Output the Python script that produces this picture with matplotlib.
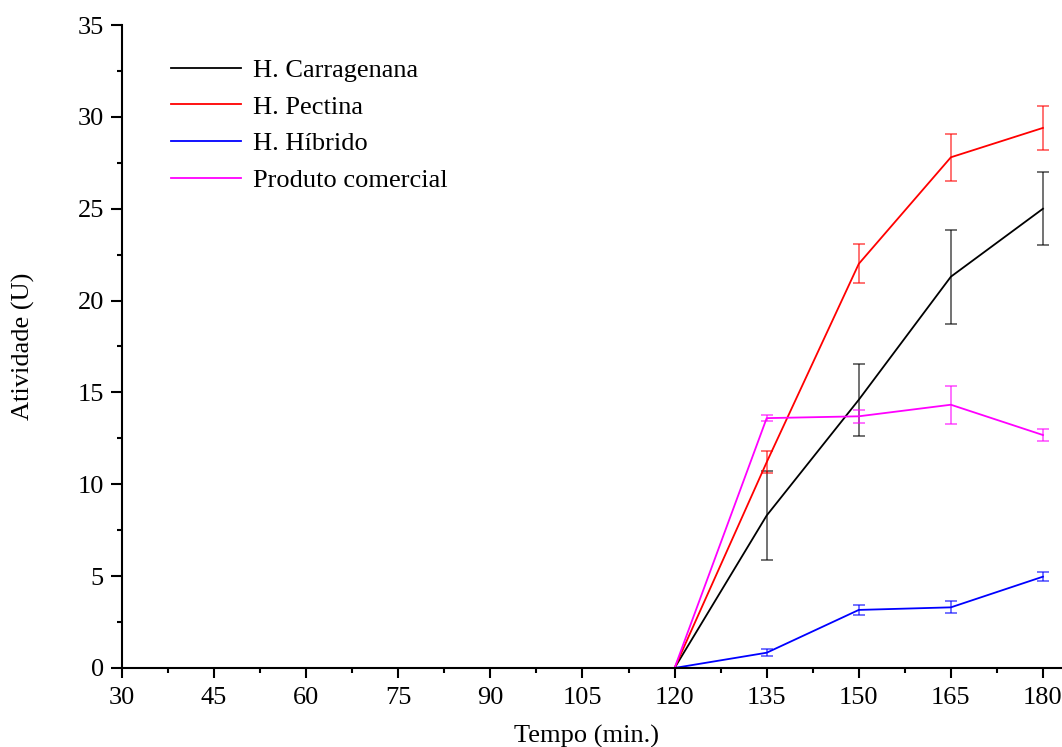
import matplotlib.pyplot as plt
import numpy as np

plt.rcParams['font.family'] = ['Liberation Serif', 'DejaVu Serif']

tempo = [30, 45, 60, 75, 90, 105, 120, 135, 150, 165, 180]

carragenana = [0, 0, 0, 0, 0, 0, 0, 8.3, 14.6, 21.3, 25.0]
carragenana_err = [0, 0, 0, 0, 0, 0, 0, 2.44, 1.96, 2.56, 2.0]

pectina = [0, 0, 0, 0, 0, 0, 0, 11.2, 22.0, 27.8, 29.4]
pectina_err = [0, 0, 0, 0, 0, 0, 0, 0.6, 1.07, 1.27, 1.19]

hibrido = [0, 0, 0, 0, 0, 0, 0, 0.83, 3.16, 3.30, 4.97]
hibrido_err = [0, 0, 0, 0, 0, 0, 0, 0.2, 0.25, 0.32, 0.25]

comercial = [0, 0, 0, 0, 0, 0, 0, 13.6, 13.7, 14.33, 12.68]
comercial_err = [0, 0, 0, 0, 0, 0, 0, 0.15, 0.37, 1.04, 0.35]

series = [
    ('H. Carragenana', carragenana, carragenana_err, 'black'),
    ('H. Pectina', pectina, pectina_err, '#ff0000'),
    ('H. Híbrido', hibrido, hibrido_err, '#0000ff'),
    ('Produto comercial', comercial, comercial_err, '#ff00ff'),
]

fig = plt.figure(figsize=(10.62, 7.47), dpi=100)
ax = fig.add_axes([0.1149, 0.1058, 0.8851, 0.8607])

for label, vals, err, col in series:
    x = np.array(tempo)
    v = np.array(vals)
    e = np.array(err)
    m = e > 0
    ax.plot(x, v, color=col, lw=1.3, label=label)
    ax.errorbar(x[m], v[m], yerr=e[m], fmt='none', ecolor=col, elinewidth=1.1,
                capsize=4.5, capthick=1.1, alpha=0.7)

ax.set_xlim(30, 183.1)
ax.set_ylim(0, 35)
ax.set_xticks(np.arange(30, 181, 15))
ax.set_xticks(np.arange(37.5, 181, 15), minor=True)
ax.set_yticks(np.arange(0, 36, 5))
ax.set_yticks(np.arange(2.5, 35, 5), minor=True)

for s in ['top', 'right']:
    ax.spines[s].set_visible(False)
for s in ['left', 'bottom']:
    ax.spines[s].set_linewidth(1.5)
ax.tick_params(which='major', length=8, width=1.5, labelsize=19, direction='out')
ax.tick_params(which='minor', length=3.5, width=1.5, direction='out')
ax.tick_params(axis='x', which='major', length=7.5, pad=6)
ax.tick_params(axis='y', which='major', pad=5)

ax.set_xlabel('Tempo (min.)', fontsize=19)
ax.set_ylabel('Atividade (U)', fontsize=19)
ax.xaxis.set_label_coords(0.494, -0.088)
ax.yaxis.set_label_coords(-0.0926, 0.5)

ax.legend(loc='upper left', bbox_to_anchor=(0.027, 0.985), frameon=False,
          fontsize=19, handlelength=2.65, handletextpad=0.45, labelspacing=0.5)

fig.savefig('out.png', dpi=100)
